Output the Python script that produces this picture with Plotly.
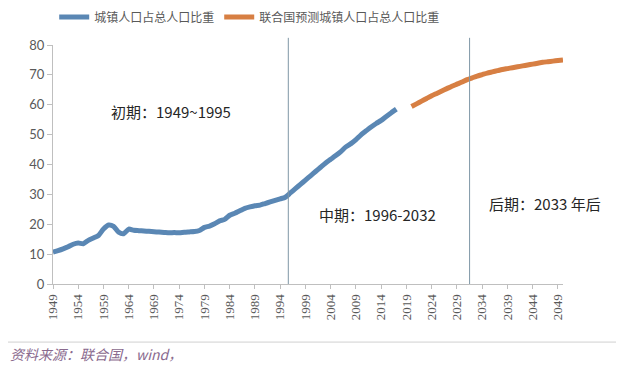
import plotly.graph_objects as go

# ---- data ----
hist_years = list(range(1949, 2018))
hist_values = [10.64, 11.18, 11.78, 12.46, 13.31, 13.69, 13.48, 14.62, 15.39, 16.25,
               18.41, 19.75, 19.29, 17.33, 16.84, 18.37, 17.98, 17.86, 17.74, 17.62,
               17.50, 17.38, 17.26, 17.13, 17.20, 17.16, 17.34, 17.44, 17.55, 17.92,
               18.96, 19.39, 20.16, 21.13, 21.62, 23.01, 23.71, 24.52, 25.32, 25.81,
               26.21, 26.41, 26.94, 27.46, 27.99, 28.51, 29.04, 30.48, 31.91, 33.35,
               34.78, 36.22, 37.66, 39.09, 40.53, 41.76, 42.99, 44.34, 45.89, 46.99,
               48.34, 49.95, 51.27, 52.57, 53.73, 54.77, 56.10, 57.35, 58.52]

proj_years = list(range(2020, 2051))
proj_values = [59.4, 60.3, 61.2, 62.1, 63.0, 63.8, 64.6, 65.4, 66.2, 66.9,
               67.6, 68.4, 69.0, 69.6, 70.1, 70.6, 71.0, 71.4, 71.8, 72.1,
               72.4, 72.7, 73.0, 73.3, 73.6, 73.9, 74.2, 74.4, 74.6, 74.8, 75.0]

series_names = ["城镇人口占总人口比重", "联合国预测城镇人口占总人口比重"]
x_tick_years = list(range(1949, 2050, 5))
x_tick_labels = [str(y) for y in x_tick_years]
y_tick_vals = [0, 10, 20, 30, 40, 50, 60, 70, 80]
period_bounds = [1995.6, 2031.5]
period_labels = ["初期：1949~1995", "中期：1996-2032", "后期：2033 年后"]
period_label_pos = [(1972.4, 57.9), (2013.3, 23.4), (2046.5, 27.1)]
source_text = "资料来源：联合国，wind，"

BLUE = "#5a87b4"
ORANGE = "#d77f43"
GRAY_TXT = "#595959"

fig = go.Figure()
fig.add_trace(go.Scatter(x=hist_years, y=hist_values, mode="lines", name=series_names[0],
                         line=dict(color=BLUE, width=5, shape="spline", smoothing=0.6)))
fig.add_trace(go.Scatter(x=proj_years, y=proj_values, mode="lines", name=series_names[1],
                         line=dict(color=ORANGE, width=5, shape="spline", smoothing=0.6)))

for xb in period_bounds:
    fig.add_shape(type="line", xref="x", yref="paper", x0=xb, x1=xb, y0=0, y1=1.03,
                  line=dict(color="#7f97a6", width=1))

for txt, (px, py) in zip(period_labels, period_label_pos):
    fig.add_annotation(x=px, y=py, xref="x", yref="y", text=txt, showarrow=False,
                       font=dict(family="Noto Sans CJK SC", size=15, color="#262626"))

# separator and source
fig.add_shape(type="line", xref="paper", yref="paper", x0=-0.09, x1=1.13, y0=-0.243, y1=-0.243,
              line=dict(color="#d0d0d0", width=1))
fig.add_annotation(xref="paper", yref="paper", x=-0.088, y=-0.293, xanchor="left", yanchor="middle",
                   text="<i>" + source_text + "</i>", showarrow=False,
                   font=dict(family="Noto Sans CJK SC", size=14, color="#8a6a8e"))

fig.update_layout(
    width=616, height=363,
    margin=dict(l=45, r=61, t=37, b=87, autoexpand=False),
    paper_bgcolor="white", plot_bgcolor="white",
    showlegend=True,
    legend=dict(orientation="h", xref="container", yref="container", x=0.075, y=0.975,
                xanchor="left", yanchor="middle",
                font=dict(family="Noto Sans CJK SC", size=12, color=GRAY_TXT),
                itemwidth=30, bgcolor="rgba(0,0,0,0)"),
    xaxis=dict(range=[1949, 2050], tickmode="array", tickvals=x_tick_years, ticktext=x_tick_labels,
               tickangle=-90, showgrid=False, zeroline=False, showline=True, linecolor="#bfbfbf",
               ticks="outside", ticklen=4, tickcolor="#bfbfbf", automargin=False,
               tickfont=dict(family="Liberation Serif", size=13, color=GRAY_TXT)),
    yaxis=dict(range=[0, 80], tickmode="array", tickvals=y_tick_vals, showgrid=False,
               zeroline=False, showline=True, linecolor="#bfbfbf", ticks="outside", ticklen=5,
               tickcolor="#bfbfbf", automargin=False,
               tickfont=dict(family="Lato", size=13, color=GRAY_TXT)),
)

fig.write_html("out.html")
